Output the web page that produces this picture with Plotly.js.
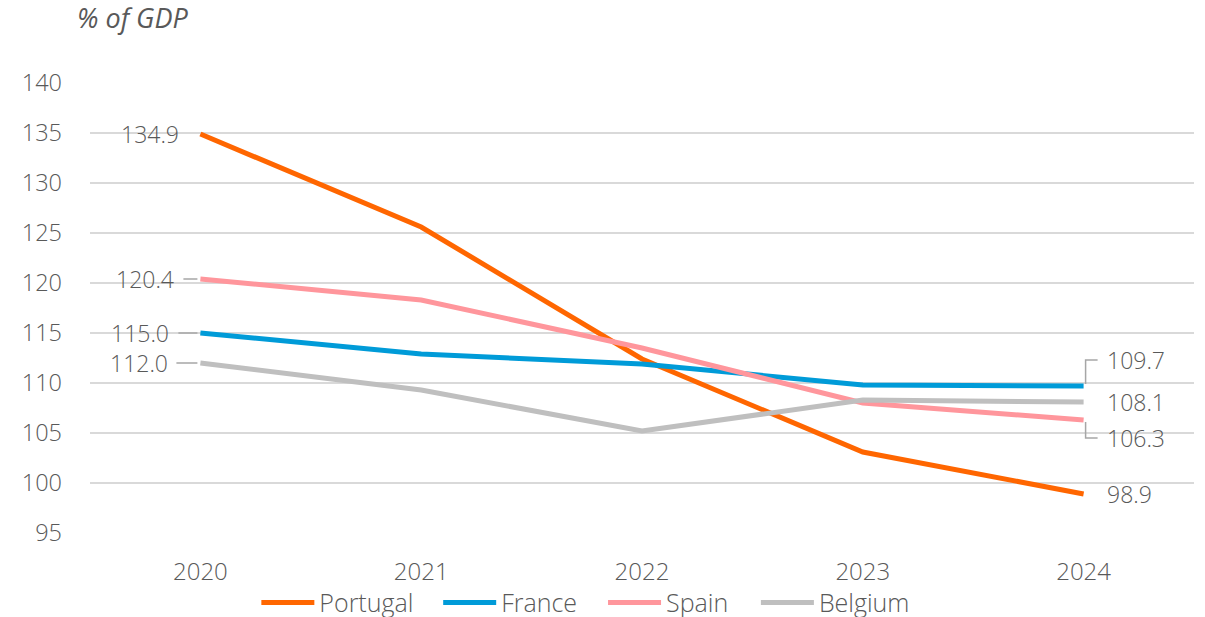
<!DOCTYPE html>
<html>
<head>
<meta charset="utf-8">
<script src="https://cdn.plot.ly/plotly-3.0.1.min.js"></script>
<style>html,body{margin:0;padding:0;background:#fff;}#chart{width:1205px;height:617px;}</style>
</head>
<body>
<div id="chart"></div>
<script>
const years = ['2020', '2021', '2022', '2023', '2024'];
const portugal = [134.9, 125.6, 112.4, 103.1, 98.9];
const france = [115.0, 112.9, 111.9, 109.8, 109.7];
const spain = [120.4, 118.3, 113.5, 108.0, 106.3];
const belgium = [112.0, 109.3, 105.2, 108.3, 108.1];
const seriesNames = ['Portugal', 'France', 'Spain', 'Belgium'];
const seriesColors = ['#FF6600', '#009BD8', '#FF969C', '#BFBFBF'];
const yTicks = [95, 100, 105, 110, 115, 120, 125, 130, 135, 140];

const allSeries = [portugal, france, spain, belgium];
const FONT = '"Open Sans", "Noto Sans", sans-serif';
const TXT = '#595959';
const W = 300;

const legendIds = ['legend', 'legend2', 'legend3', 'legend4'];
const legendLeftPx = [264, 446, 611, 764];

const traces = allSeries.map((vals, i) => ({
  type: 'scatter', mode: 'lines', name: seriesNames[i],
  x: years, y: vals, legend: legendIds[i],
  line: {color: seriesColors[i], width: 5}
}));

const firstIdx = 0, lastIdx = years.length - 1;
const annotations = [];
const shapes = [];
const leftCfg = [
  {v: portugal[0], shift: -19, lead: null},
  {v: spain[0], shift: -24, lead: [-17, -3]},
  {v: france[0], shift: -29, lead: [-22, -3]},
  {v: belgium[0], shift: -30, lead: [-24, -3]}
];
const labFont = {family: FONT, size: 23, color: TXT, weight: W};
leftCfg.forEach(c => {
  annotations.push({xref: 'x', yref: 'y', x: firstIdx, y: c.v, text: c.v.toFixed(1),
    showarrow: false, xanchor: 'right', yanchor: 'middle', xshift: c.shift, font: labFont});
  if (c.lead) shapes.push({type: 'line', xref: 'x', yref: 'y', xsizemode: 'pixel', xanchor: firstIdx,
    x0: c.lead[0], x1: c.lead[1], y0: c.v, y1: c.v, line: {color: '#A6A6A6', width: 1.5}});
});
const rightCfg = [
  {v: france[4], dy: 26},
  {v: belgium[4], dy: 0},
  {v: spain[4], dy: -18},
  {v: portugal[4], dy: 0}
];
rightCfg.forEach(c => {
  annotations.push({xref: 'x', yref: 'y', x: lastIdx, y: c.v, text: c.v.toFixed(1),
    showarrow: false, xanchor: 'left', yanchor: 'middle', xshift: 21, yshift: c.dy, font: labFont});
  if (c.dy !== 0) shapes.push({type: 'path', xref: 'x', yref: 'y', xsizemode: 'pixel', ysizemode: 'pixel',
    xanchor: lastIdx, yanchor: c.v,
    path: 'M 2 ' + (c.dy > 0 ? 2 : -2) + ' L 2 ' + c.dy + ' L 14 ' + c.dy,
    line: {color: '#A6A6A6', width: 1.5}});
});
annotations.push({xref: 'paper', yref: 'paper', x: -0.0135, y: 1.145, xanchor: 'left', yanchor: 'middle',
  text: '<i>% of GDP</i>', showarrow: false, font: {family: FONT, size: 27, color: TXT}});

const layout = {
  width: 1205, height: 617,
  margin: {l: 89.5, r: 10.5, t: 83.3, b: 83.7, autoexpand: false},
  paper_bgcolor: '#fff', plot_bgcolor: '#fff',
  showlegend: true,
  xaxis: {type: 'category', range: [-0.5, 4.5], showgrid: false, zeroline: false, showline: false,
    ticks: '', tickfont: {family: FONT, size: 24, color: TXT, weight: W}, ticklabelstandoff: 22},
  yaxis: {range: [95, 140], tickvals: yTicks, showgrid: true, gridcolor: '#D9D9D9', gridwidth: 1.5,
    zeroline: false, showline: false, ticks: '', tickfont: {family: FONT, size: 23.5, color: TXT, weight: W},
    ticklabelstandoff: 27},
  annotations: annotations,
  shapes: shapes,
  hovermode: false
};
legendIds.forEach((id, i) => {
  layout[id] = {orientation: 'h', x: (legendLeftPx[i] - 89.5 - 8) / 1105, xanchor: 'left',
    y: -0.155, yanchor: 'middle', bgcolor: 'rgba(0,0,0,0)', borderwidth: 0,
    font: {family: FONT, size: 25, color: TXT, weight: W}, itemwidth: 53};
});
Plotly.newPlot('chart', traces, layout, {staticPlot: true, displayModeBar: false});
</script>
</body>
</html>
